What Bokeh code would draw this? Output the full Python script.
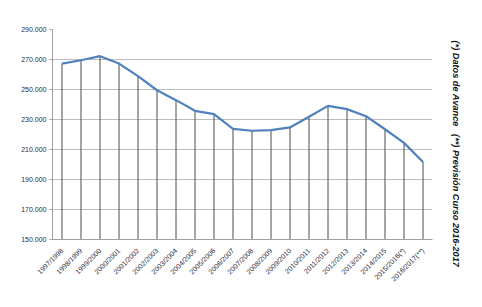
import math
from bokeh.plotting import figure
from bokeh.models import ColumnDataSource, FixedTicker, Title
from bokeh.embed import file_html
from bokeh.resources import INLINE

categories = ["1997/1998", "1998/1999", "1999/2000", "2000/2001", "2001/2002",
              "2002/2003", "2003/2004", "2004/2005", "2005/2006", "2006/2007",
              "2007/2008", "2008/2009", "2009/2010", "2010/2011", "2011/2012",
              "2012/2013", "2013/2014", "2014/2015", "2015/2016(*)", "2016/2017(**)"]
values = [267300, 269500, 272200, 267300, 258900, 249500, 242900, 235800, 233600,
          223700, 222500, 222900, 224700, 231800, 239100, 236900, 232200, 223500,
          214400, 201700]
y_ticks = [150000, 170000, 190000, 210000, 230000, 250000, 270000, 290000]
y_labels = ["150.000", "170.000", "190.000", "210.000", "230.000", "250.000",
            "270.000", "290.000"]
note = "(*) Datos de Avance\u00a0\u00a0\u00a0(**) Previsión Curso 2016-2017"

base = [y_ticks[0]] * len(values)
src = ColumnDataSource(dict(cat=categories, val=values, base=base))

p = figure(width=482, height=307, x_range=categories, y_range=(150000, 290000),
           output_backend="svg", toolbar_location=None,
           min_border_left=52, min_border_right=50, min_border_top=29,
           min_border_bottom=68)
p.outline_line_color = None
p.background_fill_color = "white"
p.border_fill_color = "white"

p.segment(x0="cat", y0="base", x1="cat", y1="val", source=src,
          line_color="#4a4a4a", line_width=1)
p.line(x="cat", y="val", source=src, line_color="#4f81bd", line_width=2.2)

p.xgrid.grid_line_color = None
p.ygrid.grid_line_color = "#bcbcbc"
p.ygrid.grid_line_width = 1

p.yaxis.ticker = FixedTicker(ticks=y_ticks)
p.yaxis.major_label_overrides = {t: l for t, l in zip(y_ticks, y_labels)}
p.yaxis.major_label_text_font = "Liberation Sans"
p.yaxis.major_label_text_font_size = "7px"
p.yaxis.major_label_text_color = "#2a2a3a"
p.yaxis.axis_line_color = "#a0a0a0"
p.yaxis.major_tick_line_color = "#a0a0a0"
p.yaxis.major_tick_out = 3
p.yaxis.major_tick_in = 0
p.yaxis.minor_tick_line_color = None
p.yaxis.major_label_standoff = 3

p.xaxis.major_label_orientation = math.pi / 4
p.xaxis.major_label_text_font = "Liberation Sans"
p.xaxis.major_label_text_font_size = "7px"
p.xaxis.major_label_text_color = "#2a2a3a"
p.xaxis.axis_line_color = "#a0a0a0"
p.xaxis.major_tick_line_color = None
p.xaxis.major_label_standoff = 4

t = Title(text=note, align="left", text_font="Liberation Sans",
          text_font_style="bold italic", text_font_size="9.2px",
          text_color="#111111", standoff=36, offset=11)
p.add_layout(t, "right")

open("out.html", "w").write(file_html(p, INLINE))
